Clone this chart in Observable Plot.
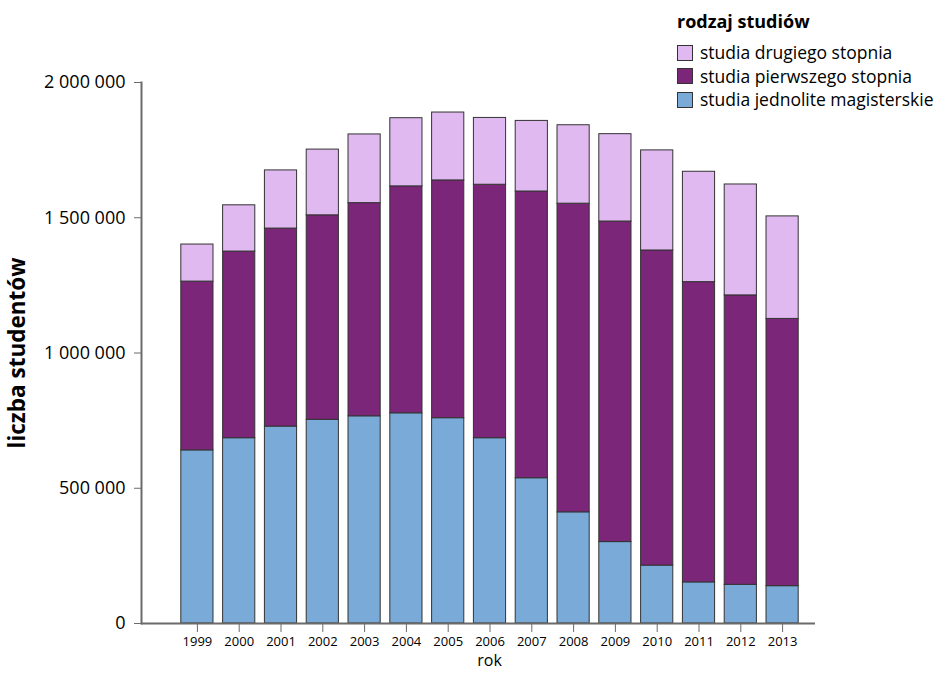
<!DOCTYPE html>
<html><head><meta charset="utf-8">
<script src="https://cdn.jsdelivr.net/npm/d3@7"></script>
<script src="https://cdn.jsdelivr.net/npm/@observablehq/plot@0.6"></script>
<style>
body{margin:0;background:#fff;font-family:"Open Sans",sans-serif;}
#wrap{position:relative;width:939px;height:680px;}
#legend{position:absolute;left:677px;top:8px;color:#000;}
#legend .title{font-weight:bold;font-size:18px;line-height:26px;margin-bottom:7px;}
#legend .item{display:flex;align-items:center;font-size:17.5px;line-height:23.5px;white-space:nowrap;}
#legend .sw{width:14px;height:14px;border:1px solid #333;margin-right:7px;box-sizing:content-box;}
</style></head><body>
<div id="wrap"><div id="chart"></div><div id="legend"></div></div>
<script>
const years = ["1999","2000","2001","2002","2003","2004","2005","2006","2007","2008","2009","2010","2011","2012","2013"];
const seriesNames = ["studia jednolite magisterskie","studia pierwszego stopnia","studia drugiego stopnia"];
const jednolite = [640000,685000,728000,753000,766000,777000,759000,685000,537000,411000,301000,214000,152000,143000,138000];
const pierwszego = [624000,690000,732000,756000,788000,839000,879000,937000,1060000,1141000,1185000,1165000,1110000,1070000,988000];
const drugiego = [137000,171000,215000,243000,254000,252000,251000,247000,261000,290000,323000,370000,408000,410000,379000];
const colors = ["#7aaad7","#7b2678","#e0b9f1"];
const yTicks = [0,500000,1000000,1500000,2000000];
const yLabel = "liczba studentów";
const xLabel = "rok";
const legendTitle = "rodzaj studiów";

const seriesValues = [jednolite, pierwszego, drugiego];
const rows = [];
seriesNames.forEach((s,i)=>{
  years.forEach((y,j)=>rows.push({rok:y, rodzaj:s, liczba:seriesValues[i][j]}));
});
const fmt = d3.formatLocale({decimal:",",thousands:" ",grouping:[3],currency:["",""]}).format(",d");
const axisColor = "#6b6b6b";

const chart = Plot.plot({
  width:939, height:680,
  marginLeft:141, marginRight:124, marginTop:82, marginBottom:57,
  style:{fontFamily:"'Open Sans', sans-serif", background:"#fff", color:"#000"},
  x:{type:"band", domain:years, range:[176,803], paddingInner:0.23, paddingOuter:0.115, round:false},
  y:{domain:[0,2000000], range:[623,82]},
  color:{domain:seriesNames, range:colors},
  marks:[
    Plot.barY(rows,{x:"rok", y:"liczba", fill:"rodzaj", stroke:"#333", strokeWidth:1}),
    Plot.ruleY([0],{stroke:axisColor, strokeWidth:2}),
    Plot.frame({anchor:"left", stroke:axisColor, strokeWidth:2}),
    Plot.axisY({ticks:yTicks, tickFormat:fmt, tickSize:7, tickPadding:9, stroke:axisColor, fill:"#000", fontSize:18, label:null}),
    Plot.axisX({tickSize:9, tickPadding:4, stroke:axisColor, fill:"#000", fontSize:13, label:null}),
    Plot.text([yLabel],{frameAnchor:"left", dx:-124, rotate:-90, textAnchor:"middle", lineAnchor:"middle", fontWeight:"bold", fontSize:22.5, fill:"#000"}),
    Plot.text([xLabel],{frameAnchor:"bottom", dx:11, dy:37, lineAnchor:"middle", fontSize:16, fill:"#000"})
  ]
});
document.getElementById("chart").appendChild(chart);

const legend = document.getElementById("legend");
const t = document.createElement("div"); t.className="title"; t.textContent=legendTitle; legend.appendChild(t);
[2,1,0].forEach(i=>{
  const it = document.createElement("div"); it.className="item";
  const sw = document.createElement("span"); sw.className="sw"; sw.style.background=colors[i];
  const tx = document.createElement("span"); tx.textContent=seriesNames[i];
  it.appendChild(sw); it.appendChild(tx); legend.appendChild(it);
});
</script>
</body></html>
